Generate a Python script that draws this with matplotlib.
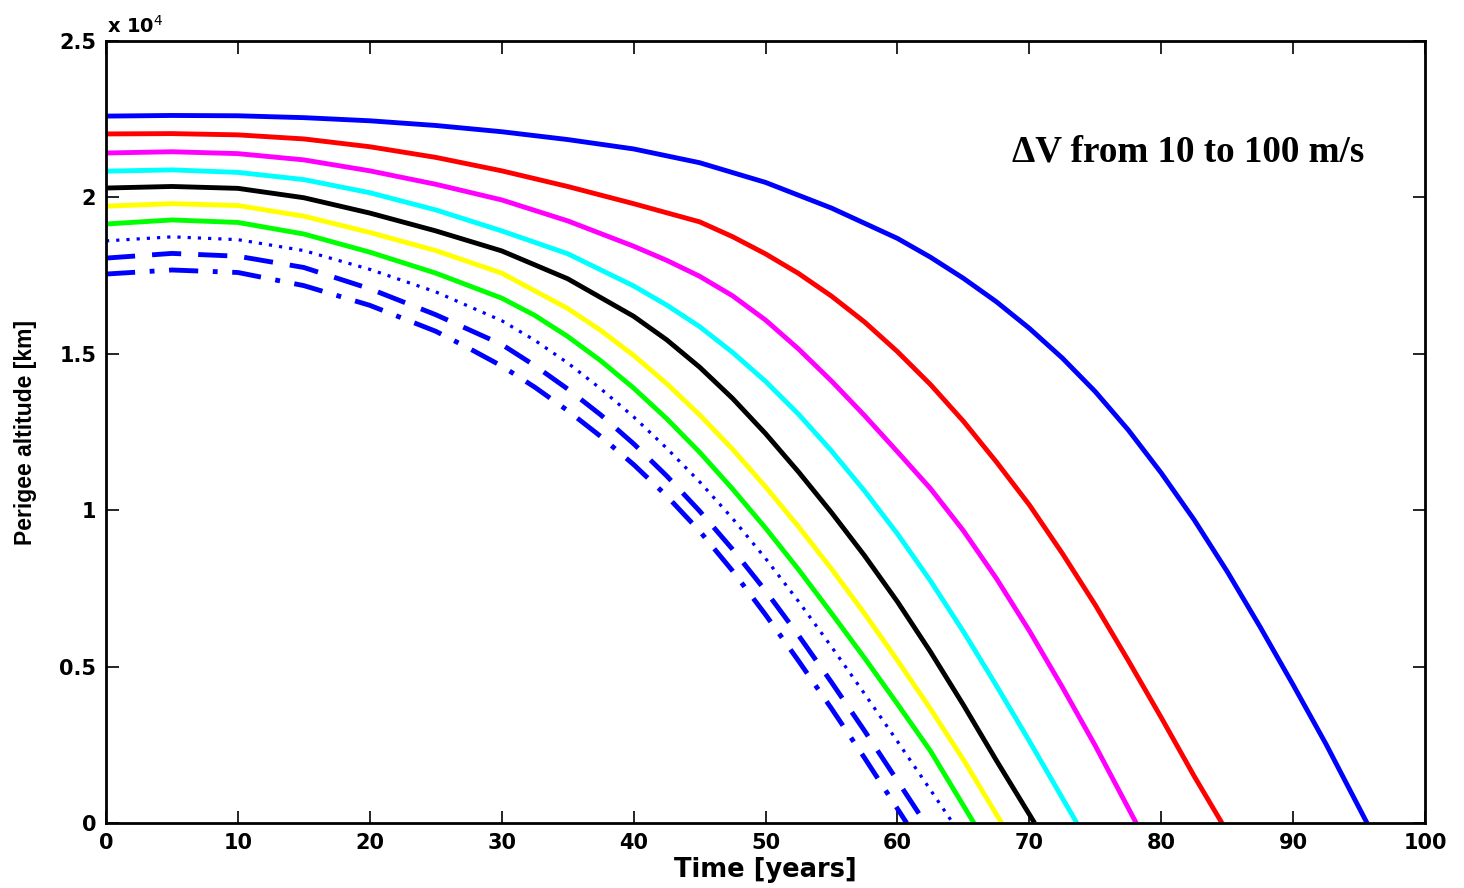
import matplotlib
matplotlib.use("Agg")
import matplotlib.pyplot as plt
from matplotlib.font_manager import FontProperties
from matplotlib.ticker import FuncFormatter, MultipleLocator

# Perigee altitude decay curves, one per delta-V (time in years, altitude in km)
T_BLUE = [0, 5, 10, 15, 20, 25, 30, 35, 40, 45, 50, 55, 60, 62.5, 65, 67.5, 70,
          72.5, 75, 77.5, 80, 82.5, 85, 87.5, 90, 92.5, 95.6]
H_BLUE = [22600, 22620, 22610, 22550, 22450, 22300, 22100, 21850, 21550, 21110,
          20480, 19660, 18690, 18090, 17415, 16665, 15815, 14865, 13790, 12565,
          11190, 9690, 8040, 6265, 4415, 2515, 0]

T_RED = [0, 5, 10, 15, 20, 25, 30, 35, 40, 45, 47.5, 50, 52.5, 55, 57.5, 60,
         62.5, 65, 67.5, 70, 72.5, 75, 77.5, 80, 82.5, 84.6]
H_RED = [22030, 22040, 22000, 21870, 21620, 21280, 20850, 20350, 19800, 19220,
         18745, 18195, 17570, 16845, 16020, 15070, 14020, 12845, 11545, 10170,
         8620, 6970, 5195, 3370, 1495, 0]

T_MAGENTA = [0, 5, 10, 15, 20, 25, 30, 35, 40, 42.5, 45, 47.5, 50, 52.5, 55,
             57.5, 60, 62.5, 65, 67.5, 70, 72.5, 75, 78.1]
H_MAGENTA = [21420, 21460, 21400, 21200, 20850, 20420, 19920, 19250, 18440,
             17990, 17480, 16855, 16080, 15155, 14130, 13030, 11870, 10695,
             9345, 7820, 6145, 4345, 2470, 0]

T_CYAN = [0, 5, 10, 15, 20, 25, 30, 35, 40, 42.5, 45, 47.5, 50, 52.5, 55, 57.5,
          60, 62.5, 65, 67.5, 70, 73.6]
H_CYAN = [20840, 20880, 20800, 20570, 20150, 19600, 18930, 18200, 17170, 16560,
          15870, 15045, 14120, 13070, 11895, 10620, 9245, 7745, 6120, 4395,
          2620, 0]

T_BLACK = [0, 5, 10, 15, 20, 25, 30, 35, 40, 42.5, 45, 47.5, 50, 52.5, 55,
           57.5, 60, 62.5, 65, 67.5, 70.4]
H_BLACK = [20300, 20350, 20290, 19990, 19500, 18930, 18290, 17400, 16200, 15450,
           14575, 13575, 12450, 11225, 9925, 8550, 7075, 5475, 3775, 2000, 0]

T_YELLOW = [0, 5, 10, 15, 20, 25, 30, 35, 37.5, 40, 42.5, 45, 47.5, 50, 52.5,
            55, 57.5, 60, 62.5, 65, 67.9]
H_YELLOW = [19720, 19800, 19740, 19400, 18880, 18300, 17580, 16450, 15750, 14950,
            14050, 13050, 11950, 10750, 9475, 8125, 6700, 5200, 3650, 2025, 0]

T_GREEN = [0, 5, 10, 15, 20, 25, 30, 32.5, 35, 37.5, 40, 42.5, 45, 47.5, 50,
           52.5, 55, 57.5, 60, 62.5, 65.8]
H_GREEN = [19150, 19280, 19200, 18830, 18250, 17580, 16780, 16230, 15555, 14780,
           13905, 12930, 11855, 10680, 9430, 8105, 6705, 5280, 3805, 2305, 0]

T_DOT = [0, 5, 10, 15, 20, 25, 30, 32.5, 35, 37.5, 40, 42.5, 45, 47.5, 50, 52.5,
         55, 57.5, 60, 62.5, 64.2]
H_DOT = [18610, 18740, 18650, 18300, 17700, 16980, 16060, 15435, 14710, 13885,
         12985, 11985, 10910, 9735, 8460, 7085, 5635, 4135, 2610, 1060, 0]

T_DASH = [0, 5, 10, 15, 20, 25, 30, 32.5, 35, 37.5, 40, 42.5, 45, 47.5, 50,
          52.5, 55, 57.5, 60, 62.1]
H_DASH = [18060, 18210, 18120, 17760, 17080, 16250, 15300, 14625, 13875, 13050,
          12125, 11100, 9975, 8750, 7425, 6000, 4500, 2950, 1350, 0]

T_DASHDOT = [0, 5, 10, 15, 20, 25, 27.5, 30, 32.5, 35, 37.5, 40, 42.5, 45, 47.5,
             50, 52.5, 55, 57.5, 60.7]
H_DASHDOT = [17550, 17680, 17600, 17180, 16550, 15720, 15180, 14610, 13935, 13185,
             12360, 11460, 10460, 9335, 8060, 6660, 5185, 3660, 2085, 0]

X_TICKS = list(range(0, 101, 10))

DOTTED = (0, (1, 2.2))
SERIES = [
    (T_BLUE, H_BLUE, "#0000ff", "-"),
    (T_RED, H_RED, "#ff0000", "-"),
    (T_MAGENTA, H_MAGENTA, "#ff00ff", "-"),
    (T_CYAN, H_CYAN, "#00ffff", "-"),
    (T_BLACK, H_BLACK, "#000000", "-"),
    (T_YELLOW, H_YELLOW, "#ffff00", "-"),
    (T_GREEN, H_GREEN, "#00ff00", "-"),
    (T_DOT, H_DOT, "#0000ff", DOTTED),
    (T_DASH, H_DASH, "#0000ff", (0, (6, 3.5))),
    (T_DASHDOT, H_DASHDOT, "#0000ff", (0, (6, 3, 1, 3))),
]

TICK_FONT = FontProperties(family="DejaVu Sans", weight="bold", size=15)
XLABEL_FONT = FontProperties(family="DejaVu Sans", weight="bold", size=18.5)
YLABEL_FONT = FontProperties(family="Liberation Sans", weight="bold", size=16.5)
EXP_FONT = FontProperties(family="DejaVu Sans", weight="bold", size=14)
NOTE_FONT = FontProperties(family="Liberation Serif", weight="bold", size=26.7)

fig = plt.figure(figsize=(14.64, 8.88), dpi=100)
ax = fig.add_axes([0.0724, 0.0732, 0.901, 0.8806])

for t, h, color, ls in SERIES:
    lw = 2.3 if ls == DOTTED else 3.5
    ax.plot(t, h, color=color, linestyle=ls, linewidth=lw,
            solid_capstyle="butt", solid_joinstyle="round")

ax.set_xlim(0, 100)
ax.set_ylim(0, 25000)
ax.set_xticks(X_TICKS)
ax.yaxis.set_major_locator(MultipleLocator(5000))
ax.yaxis.set_major_formatter(FuncFormatter(lambda v, _: f"{v / 1e4:g}"))

ax.tick_params(direction="in", length=9, width=1.2, top=True, right=True, pad=7)
for lbl in ax.get_xticklabels() + ax.get_yticklabels():
    lbl.set_fontproperties(TICK_FONT)
for sp in ax.spines.values():
    sp.set_linewidth(2)

ax.set_xlabel("Time [years]", fontproperties=XLABEL_FONT, labelpad=3)
ax.set_ylabel("Perigee altitude [km]", fontproperties=YLABEL_FONT, labelpad=16)

ax.text(0.001, 1.006, r"x 10$^{4}$", transform=ax.transAxes,
        fontproperties=EXP_FONT, ha="left", va="bottom")

ax.text(0.687, 0.858, "ΔV from 10 to 100 m/s", transform=ax.transAxes,
        fontproperties=NOTE_FONT, ha="left", va="center")

fig.savefig("out.png", dpi=100)
